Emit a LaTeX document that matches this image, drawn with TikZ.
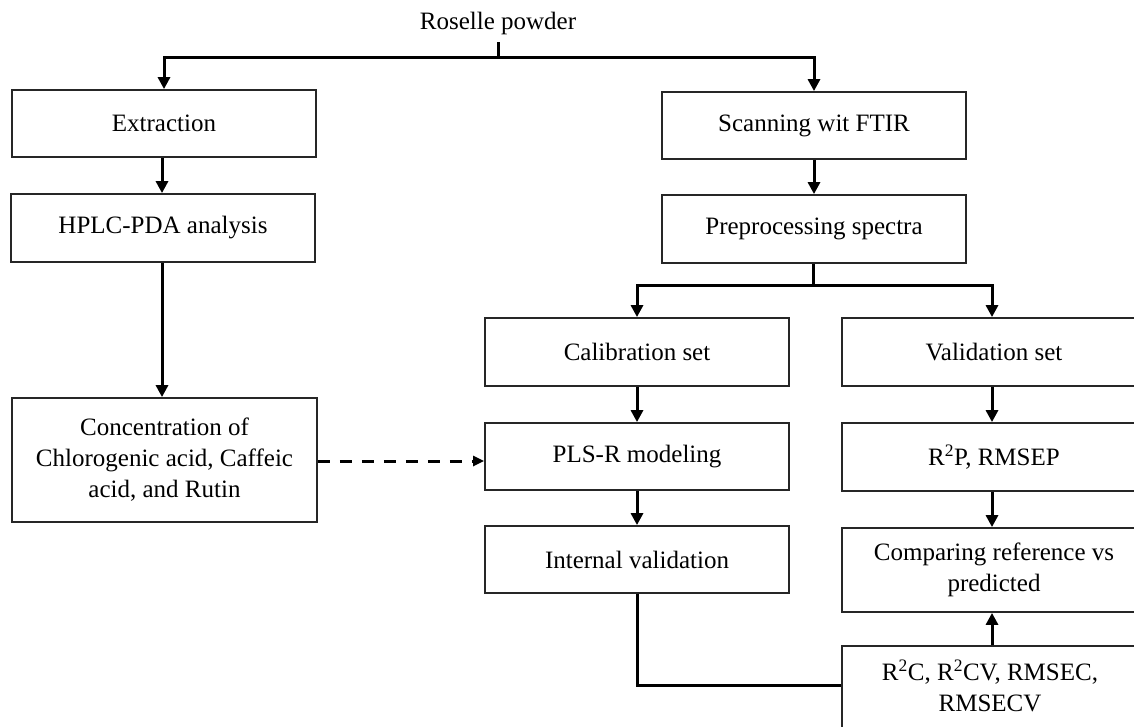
\documentclass[tikz,border=0pt]{standalone}
\usepackage{fontspec}
\setmainfont{Liberation Serif}
\usetikzlibrary{arrows.meta}
\begin{document}
\begin{tikzpicture}[x=1pt,y=-1pt,
  txt/.style={font=\fontsize{25}{31}\selectfont},
  box/.style={txt, draw=black!85, line width=1.8pt, align=center, inner sep=0pt},
  conn/.style={line width=3pt, black},
  arr/.style={conn, -{Triangle[length=12pt,width=12pt]}},
  dasharr/.style={line width=3pt, dash pattern=on 12pt off 10pt, -{Triangle[length=11pt,width=10pt]}}
]
\clip (0,0) rectangle (1134,726);
\fill[white] (0,0) rectangle (1134,726);
% title
\node[txt] (ros) at (498,23) {Roselle powder};
% left column
\node[box, minimum width=304pt, minimum height=67pt] (ext) at (164,123.5) {Extraction};
\node[box, minimum width=304pt, minimum height=68pt] (hplc) at (163,228) {HPLC-PDA analysis};
\node[box, minimum width=305pt, minimum height=124pt] (conc) at (164.5,460) {Concentration of\\Chlorogenic acid, Caffeic\\acid, and Rutin};
% right top column
\node[box, minimum width=304pt, minimum height=67pt] (scan) at (814,125.5) {Scanning wit FTIR};
\node[box, minimum width=304pt, minimum height=68pt] (pre) at (814,229) {Preprocessing spectra};
% calibration column
\node[box, minimum width=304pt, minimum height=68pt] (cal) at (637,352) {Calibration set};
\node[box, minimum width=304pt, minimum height=67pt] (pls) at (637,456.5) {PLS-R modeling};
\node[box, minimum width=304pt, minimum height=67pt] (int) at (637,559.5) {Internal validation};
% validation column
\node[box, minimum width=304pt, minimum height=68pt] (val) at (994,352) {Validation set};
\node[box, minimum width=304pt, minimum height=68pt] (r2p) at (994,457) {R\textsuperscript{2}P, RMSEP};
\node[box, minimum width=304pt, minimum height=84pt] (cmp) at (994,570) {Comparing reference vs\\predicted};
\node[box, minimum width=304pt, minimum height=100pt] (r2c) at (994,696) {};
\node[txt, align=center] (r2ct) at (990,686) {R\textsuperscript{2}C, R\textsuperscript{2}CV, RMSEC,\\RMSECV};
% top split
\coordinate (j0) at (498,57);
\draw[conn] (498,42) -- (j0);
\draw[arr] (j0) -| (ext.north);
\draw[arr] (j0) -| (scan.north);
% left chain
\draw[arr] (ext.south -| 162,0) -- (hplc.north -| 162,0);
\draw[arr] (hplc.south -| 162,0) -- (conc.north -| 162,0);
% right chain
\draw[arr] (scan) -- (pre);
\coordinate (j1) at (813,285);
\draw[conn] (pre.south -| j1) -- (j1);
\draw[arr] (j1) -| (cal.north);
\draw[arr] (j1) -| (val.north -| 992,0);
\draw[arr] (cal) -- (pls);
\draw[arr] (pls) -- (int);
\draw[arr] (val.south -| 992,0) -- (r2p.north -| 992,0);
\draw[arr] (r2p.south -| 992,0) -- (cmp.north -| 992,0);
\draw[arr] (r2c.north -| 992,0) -- (cmp.south -| 992,0);
\draw[conn] (int.south) |- (r2c.west |- 0,685);
% dashed
\draw[dasharr] (conc.east |- 0,461) -- (pls.west |- 0,461);
\end{tikzpicture}
\end{document}
